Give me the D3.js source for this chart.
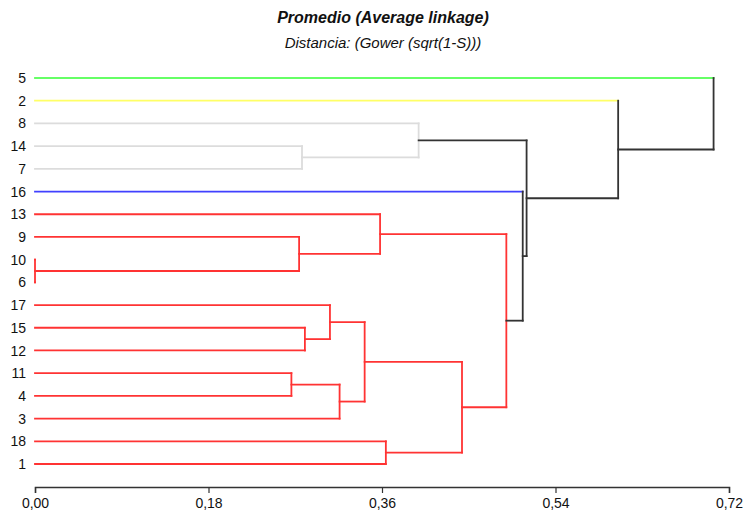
<!DOCTYPE html>
<html>
<head>
<meta charset="utf-8">
<script src="https://cdn.jsdelivr.net/npm/d3@7/dist/d3.min.js"></script>
<style>
body { margin: 0; background: #fff; }
svg text { font-family: "Liberation Sans", Arial, sans-serif; }
</style>
</head>
<body>
<div class="chart"></div>
<script>
// leaf order top to bottom
var leafOrder = ["5","2","8","14","7","16","13","9","10","6","17","15","12","11","4","3","18","1"];
// cluster of each leaf (colour group)
var leafGroup = {"5":"g","2":"y","8":"w","14":"w","7":"w","16":"b",
  "13":"r","9":"r","10":"r","6":"r","17":"r","15":"r","12":"r","11":"r","4":"r","3":"r","18":"r","1":"r"};
// merges: leaf label (string) or merge index (number, 1-based), height
var mergeLeft  = ["10","11","9","14","15","17","3",6,"13","18","8",8,9,"16",11,"2","5"];
var mergeRight = ["6","4",1,"7","12",5,2,7,3,"1",4,10,12,13,14,15,16];
var mergeHeight = [0.000,0.266,0.274,0.277,0.280,0.306,0.316,0.342,0.358,0.364,0.398,0.443,0.489,0.506,0.510,0.605,0.704];
var tickVals = [0, 0.18, 0.36, 0.54, 0.72];

var groupColor = {g:"#66ff66", y:"#ffff66", w:"#dcdcdc", b:"#4040ff", r:"#ff3333"};
var black = "#333333";

var width = 746, height = 512;
var svg = d3.select(".chart").append("svg")
    .attr("width", width)
    .attr("height", height);

var x = d3.scaleLinear().domain([0, 0.72]).range([35, 729]);
var y = d3.scalePoint().domain(leafOrder).range([78, 464]);

// build nodes
var nodes = mergeHeight.map(function(h, i) {
  return {left: mergeLeft[i], right: mergeRight[i], h: h};
});
function info(ref) {
  if (typeof ref === "string") {
    return {leaf: true, y: y(ref), h: 0, group: leafGroup[ref]};
  }
  return nodes[ref - 1];
}
nodes.forEach(function(n) {
  var a = info(n.left), b = info(n.right);
  n.y = (a.y + b.y) / 2;
  n.group = (a.group && a.group === b.group) ? a.group : null;
  n.a = a; n.b = b;
});

var segs = [];
nodes.forEach(function(n) {
  var pc = n.group ? groupColor[n.group] : black;
  [n.a, n.b].forEach(function(c) {
    var col = c.leaf ? groupColor[c.group] : pc;
    segs.push({x1: x(c.h), x2: x(n.h), y1: c.y, y2: c.y, c: col});
  });
  segs.push({x1: x(n.h), x2: x(n.h), y1: n.a.y, y2: n.b.y, c: pc});
});

svg.append("g").selectAll("line")
  .data(segs)
  .enter().append("line")
    .attr("x1", function(d) { return d.x1; })
    .attr("x2", function(d) { return d.x2; })
    .attr("y1", function(d) { return d.y1; })
    .attr("y2", function(d) { return d.y2; })
    .attr("stroke", function(d) { return d.c; })
    .attr("stroke-width", 1.8)
    .attr("stroke-linecap", "square");

// leaf labels
svg.append("g").selectAll("text")
  .data(leafOrder)
  .enter().append("text")
    .attr("x", 26)
    .attr("y", function(d) { return y(d); })
    .attr("dy", "0.36em")
    .attr("text-anchor", "end")
    .style("font-size", "14px")
    .style("fill", "#111")
    .text(function(d) { return d; });

// axis
var axis = svg.append("g")
    .attr("transform", "translate(0,487)")
    .call(d3.axisBottom(x)
      .tickValues(tickVals)
      .tickSizeOuter(0)
      .tickSize(6)
      .tickPadding(5)
      .tickFormat(function(d) { return d.toFixed(2).replace(".", ","); }));
axis.select(".domain").attr("stroke", black).attr("stroke-width", 1.5);
axis.selectAll(".tick line").attr("stroke", black).attr("stroke-width", 1.2);
axis.selectAll(".tick text")
    .style("font-size", "14px")
    .style("font-family", "Liberation Sans, Arial, sans-serif")
    .style("fill", "#111");

// titles
svg.append("text")
    .attr("x", 383)
    .attr("y", 23)
    .attr("text-anchor", "middle")
    .style("font-size", "16px")
    .style("font-weight", "bold")
    .style("font-style", "italic")
    .style("fill", "#111")
    .text("Promedio (Average linkage)");

svg.append("text")
    .attr("x", 383)
    .attr("y", 48)
    .attr("text-anchor", "middle")
    .style("font-size", "15px")
    .style("font-style", "italic")
    .style("fill", "#111")
    .text("Distancia: (Gower (sqrt(1-S)))");
</script>
</body>
</html>
